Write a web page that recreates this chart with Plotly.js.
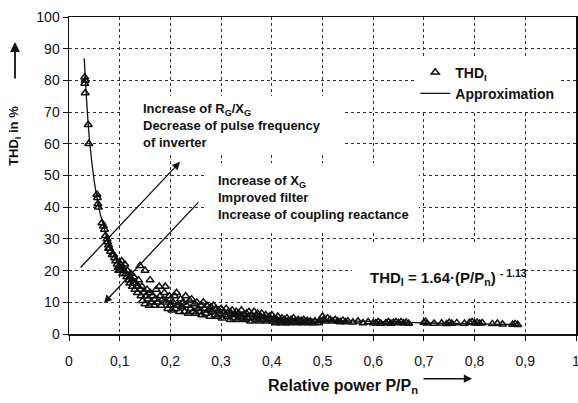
<!DOCTYPE html>
<html>
<head>
<meta charset="utf-8">
<script src="https://cdn.plot.ly/plotly-3.0.1.min.js"></script>
<style>html,body{margin:0;padding:0;background:#fff;}#chart{width:578px;height:403px;}</style>
</head>
<body>
<div id="chart"></div>
<script>
// Measured THD_I points (relative power P/Pn, THD_I in %)
const measX = [
0.031,0.032,0.031,0.032,0.038,0.039,0.055,0.056,0.057,0.058,
0.065,0.068,0.070,0.072,0.075,0.076,0.078,0.078,0.080,0.082,0.085,0.088,0.090,0.092,0.095,0.097,0.098,0.100,0.100,0.102,0.104,0.105,0.106,0.108,0.110,0.112,0.114,0.115,0.118,0.120,0.120,
0.122,0.124,0.125,0.127,0.128,0.130,0.132,0.134,0.135,0.137,0.140,0.140,0.142,0.144,0.145,0.147,0.150,0.150,0.152,0.154,0.156,0.158,0.160,0.160,0.162,0.165,0.168,0.170,0.172,0.175,0.178,0.180,0.182,0.185,0.188,0.190,0.192,0.195,0.198,0.200,0.200,
0.203,0.205,0.208,0.210,0.212,0.215,0.218,0.220,0.222,0.225,0.228,0.230,0.232,0.235,0.238,0.240,0.242,0.245,0.248,0.250,0.252,0.255,0.258,0.260,0.262,0.265,0.268,0.270,0.272,0.275,0.278,0.280,0.282,0.285,0.288,0.290,0.292,0.295,0.298,0.300,
0.302,0.305,0.308,0.310,0.312,0.315,0.318,0.320,0.322,0.325,0.328,0.330,0.332,0.335,0.338,0.340,0.342,0.345,0.348,0.350,0.352,0.355,0.358,0.360,0.362,0.365,0.368,0.370,0.372,0.375,0.378,0.380,0.382,0.385,0.388,0.390,0.392,0.395,0.398,
0.400,0.402,0.405,0.408,0.410,0.412,0.415,0.418,0.420,0.422,0.425,0.428,0.430,0.432,0.435,0.438,0.440,0.443,0.446,0.450,0.452,0.455,0.458,0.460,0.463,0.466,0.470,0.473,0.476,0.480,0.485,0.490,0.495,0.500,0.502,
0.505,0.510,0.515,0.520,0.525,0.530,0.535,0.540,0.545,0.550,0.560,0.570,0.580,0.590,0.600,0.605,0.610,0.615,0.625,0.630,0.635,0.640,0.645,0.650,0.655,0.660,0.665,0.670,0.700,0.703,0.706,
0.720,0.735,0.745,0.750,0.755,0.765,0.780,0.790,0.795,0.800,0.805,0.810,0.815,0.835,0.845,0.855,0.875,0.880,0.885
];
const measY = [
81,80,79,76,66,60,44,43,41,40,
35,34,33,31,30,29,28,27,27,26,25,25,24,23,22,21,20,21,20,22,23,21,19,20,22,19,18,20,17,18,16,
19,17,15,16,18,14,16,15,13,17,21.5,14,12,15,10.5,13,20,9.5,12,14,11,9,17,13,10,12,9,11,14,10,15,12,9,11,13,15,10,8,12,9,11,
7.5,10,12,8,13,9,7,11,8.5,10,7,12,9,6.5,10.5,8,11,7,9.5,6.5,10,8,7,9,6,10,8,6.5,9,7.5,5.5,8.5,7,9,6,8,5.5,7.5,6.5,8,
5,7,6,8,5.5,7,4.5,6.5,7.5,5,6,7,4.5,6.5,5.5,7.5,5,6,4.5,6.5,5,7,4,6,5,7,4.5,5.5,6.5,4,5.5,6.5,4.5,5,6,4,5,5.5,4.5,
6,4,5,3.5,4.5,5.5,4,3.5,5,4,4.5,3.5,5,4,3.5,4.5,3.8,5,4,3.5,4.5,3.8,4.2,3.5,4.5,3.8,4.2,3.5,4,3.5,4,3.5,4.2,5.5,4.5,
4,5,4.5,4,4.5,4,3.8,4.3,3.8,4,3.7,4,3.5,3.8,3.5,3.5,3.8,3.3,3.5,3.8,3.3,3.6,3.8,3.5,3.8,3.4,3.6,3.3,3.6,3.9,3.4,
3.3,3.4,3.2,3.6,3.3,3.5,3.3,3.6,3.8,3.4,3.6,3.3,3.5,3.2,3.3,3.1,3.0,3.2,2.9
];
// Approximation curve as drawn in the picture
const approxX = [0.030,0.035,0.040,0.050,0.060,0.070,0.080,0.100,0.120,0.150,0.200,0.250,0.300,0.400,0.500,0.600,0.700,0.800,0.880];
const approxY = [87,73,62,48,39,33,28,22,18,14,10,8,6.6,5.2,4.4,3.9,3.5,3.2,3.0];
const xTicks = [0,0.1,0.2,0.3,0.4,0.5,0.6,0.7,0.8,0.9,1];
const xTickText = ['0','0,1','0,2','0,3','0,4','0,5','0,6','0,7','0,8','0,9','1'];
const yTicks = [0,10,20,30,40,50,60,70,80,90,100];

const FONT = 'Liberation Sans, Arial, sans-serif';

const traces = [
  {x: measX, y: measY, type: 'scatter', mode: 'markers', name: 'THD<sub>I</sub>',
   marker: {symbol: 'triangle-up-open', size: 7, color: '#111', line: {width: 1.5, color: '#111'}}},
  {x: approxX, y: approxY, type: 'scatter', mode: 'lines', name: 'Approximation',
   line: {color: '#111', width: 1.3, shape: 'spline'}}
];

const axisCommon = {
  showline: true, linecolor: '#111', linewidth: 1.5, mirror: true,
  showgrid: true, gridcolor: '#333', griddash: 'dot', gridwidth: 1,
  zeroline: false, ticks: 'outside', ticklen: 5, tickcolor: '#111',
  tickfont: {family: FONT, size: 14, color: '#111'}
};

const whiteBox = (x0, x1, y0, y1) => ({type: 'rect', xref: 'x', yref: 'y', x0: x0, x1: x1, y0: y0, y1: y1,
  fillcolor: '#fff', line: {width: 0}, layer: 'between'});

const layout = {
  width: 578, height: 403,
  margin: {l: 69, r: 2, t: 17, b: 69},
  paper_bgcolor: '#fff', plot_bgcolor: '#fff',
  font: {family: FONT, color: '#111'},
  xaxis: Object.assign({}, axisCommon, {range: [0, 1], tickvals: xTicks, ticktext: xTickText,
    ticklabelstandoff: 9, ticklabeloverflow: 'allow'}),
  yaxis: Object.assign({}, axisCommon, {range: [0, 100], tickvals: yTicks}),
  showlegend: true,
  legend: {x: 0.683, y: 0.875, xanchor: 'left', yanchor: 'top', bgcolor: '#fff',
           font: {family: FONT, size: 14, color: '#111', weight: 'bold'}, tracegroupgap: 0},
  shapes: [
    whiteBox(0.103, 0.544, 56.5, 75.1),
    whiteBox(0.268, 0.690, 32.5, 53.9),
    whiteBox(0.558, 0.890, 11.4, 28.1)
  ],
  annotations: [
    {xref: 'paper', yref: 'paper', x: -0.1065, y: 0.625, xanchor: 'center', yanchor: 'middle',
     text: '<b>THD<sub>I</sub> in %</b>', textangle: -90,
     showarrow: false, font: {family: FONT, size: 13, color: '#111'}},
    {xref: 'paper', yref: 'paper', x: -0.1065, y: 0.921, ax: 0, ay: 38, text: '', showarrow: true,
     arrowhead: 2, arrowsize: 1.1, arrowwidth: 1.8, arrowcolor: '#111'},
    {xref: 'paper', yref: 'paper', x: 0.54, y: -0.167, xanchor: 'center', yanchor: 'middle',
     text: '<b>Relative power P/P<sub>n</sub></b>',
     showarrow: false, font: {family: FONT, size: 16, color: '#111'}},
    {xref: 'paper', yref: 'paper', x: 0.795, y: -0.141, ax: -50, ay: 0, text: '', showarrow: true,
     arrowhead: 2, arrowsize: 1.1, arrowwidth: 1.5, arrowcolor: '#111'},
    {xref: 'x', yref: 'y', x: 0.142, y: 65.9, xanchor: 'left', yanchor: 'middle', align: 'left',
     text: '<b>Increase of R<sub>G</sub>/X<sub>G</sub><br>Decrease of pulse frequency<br>of inverter</b>',
     showarrow: false, font: {family: FONT, size: 13, color: '#111'}},
    {xref: 'x', yref: 'y', x: 0.290, y: 43.2, xanchor: 'left', yanchor: 'middle', align: 'left',
     text: '<b>Increase of X<sub>G</sub><br>Improved filter<br>Increase of coupling reactance</b>',
     showarrow: false, font: {family: FONT, size: 13, color: '#111'}},
    {xref: 'x', yref: 'y', x: 0.590, y: 17.7, xanchor: 'left', yanchor: 'middle', align: 'left',
     text: '<b>THD<sub>I</sub> = 1.64·(P/P<sub>n</sub>) <sup>- 1.13</sup></b>',
     showarrow: false, font: {family: FONT, size: 15, color: '#111'}},
    {xref: 'x', yref: 'y', axref: 'x', ayref: 'y', x: 0.219, y: 54.3, ax: 0.02, ay: 20.5, text: '',
     showarrow: true, arrowhead: 2, arrowsize: 1.2, arrowwidth: 1.3, arrowcolor: '#111'},
    {xref: 'x', yref: 'y', axref: 'x', ayref: 'y', x: 0.069, y: 9.8, ax: 0.258, ay: 42, text: '',
     showarrow: true, arrowhead: 2, arrowsize: 1.2, arrowwidth: 1.3, arrowcolor: '#111'}
  ]
};

Plotly.newPlot('chart', traces, layout, {displayModeBar: false, staticPlot: true});
</script>
</body>
</html>
